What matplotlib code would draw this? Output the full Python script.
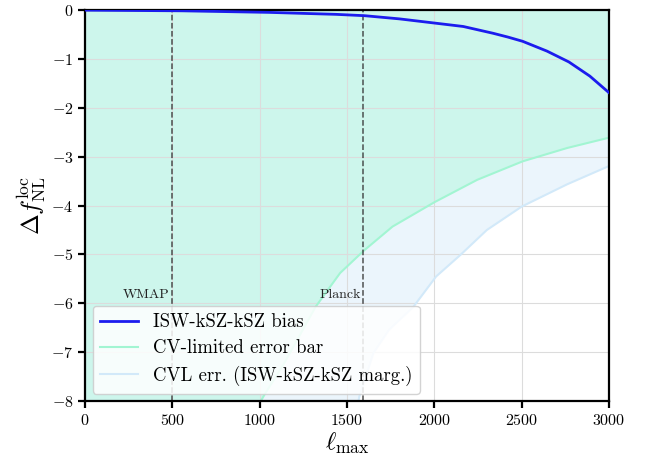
import numpy as np
import matplotlib
matplotlib.use('Agg')
import matplotlib.pyplot as plt

plt.rcParams['font.family'] = 'serif'
plt.rcParams['font.serif'] = ['cmr10', 'DejaVu Serif']
plt.rcParams['mathtext.fontset'] = 'cm'
plt.rcParams['axes.formatter.use_mathtext'] = True

# ISW-kSZ-kSZ bias
ell_bias = [0, 500, 1000, 1400, 1590, 1780, 1970, 2160, 2310, 2400, 2500, 2640, 2770,
            2890, 3000]
bias = [0.0, -0.01, -0.04, -0.08, -0.11, -0.17, -0.25, -0.33, -0.45, -0.53, -0.63,
        -0.83, -1.06, -1.35, -1.69]

# CV-limited error bar (lower edge)
ell_cv = [990, 1020, 1130, 1320, 1460, 1590, 1760, 1990, 2240, 2500, 2750, 3000]
cv_err = [-8.1, -7.91, -7.29, -6.07, -5.38, -4.94, -4.43, -3.95, -3.48, -3.10, -2.83, -2.61]

# CVL error with ISW-kSZ-kSZ marginalised (lower edge)
ell_marg = [1560, 1570, 1650, 1740, 1880, 2010, 2140, 2300, 2500, 2750, 3000]
marg_err = [-8.1, -7.91, -7.02, -6.54, -6.07, -5.45, -5.04, -4.50, -4.02, -3.58, -3.19]

wmap_lmax = 495
planck_lmax = 1590

fig = plt.figure(figsize=(6.5, 4.62), dpi=100)
ax = fig.add_axes([0.131, 0.132, 0.806, 0.846])

# common ell grid so the bands can be filled between the curves
ell = np.linspace(0, 3000, 601)
b = np.interp(ell, ell_bias, bias)
cv = np.interp(ell, ell_cv, cv_err, left=-20)
mg = np.interp(ell, ell_marg, marg_err, left=-20)

ax.fill_between(ell, cv, 0, color='#cdf6ec', lw=0, zorder=0.3)
ax.fill_between(ell, mg, cv, color='#ebf5fc', lw=0, zorder=0.3)

ax.plot(ell, b, color='#1c1cee', lw=2.0, label='ISW-kSZ-kSZ bias', zorder=3)
ax.plot(ell, cv, color='#a2f5d2', lw=1.5, label='CV-limited error bar', zorder=2)
ax.plot(ell, mg, color='#d2e9f9', lw=1.5, label='CVL err. (ISW-kSZ-kSZ marg.)', zorder=2)

for lm, name in [(wmap_lmax, 'WMAP'), (planck_lmax, 'Planck')]:
    ax.axvline(lm, color='#333333', ls='--', lw=1.1, alpha=0.85, zorder=2.5)
    ax.text(lm - 12, -5.82, name, ha='right', va='center', fontsize=10, color='#222222')

ax.set_xlim(0, 3000)
ax.set_ylim(-8, 0)
ax.set_xticks([0, 500, 1000, 1500, 2000, 2500, 3000])
ax.set_yticks(range(-8, 1))
ax.grid(True, color='#dcdcdc', lw=0.8)
ax.set_axisbelow(True)

for s in ax.spines.values():
    s.set_linewidth(1.6)
ax.tick_params(direction='out', length=5, width=1.6, labelsize=11.5)

ax.set_xlabel(r'$\ell_{\rm max}$', fontsize=18, labelpad=2)
ax.set_ylabel(r'$\Delta f_{\rm NL}^{\rm loc}$', fontsize=18, labelpad=2)

leg = ax.legend(loc='lower left', fontsize=13.5, framealpha=0.85, borderaxespad=0.4,
                handlelength=2.0, labelspacing=0.45)
leg.set_zorder(4)

fig.savefig('out.png', dpi=100)
